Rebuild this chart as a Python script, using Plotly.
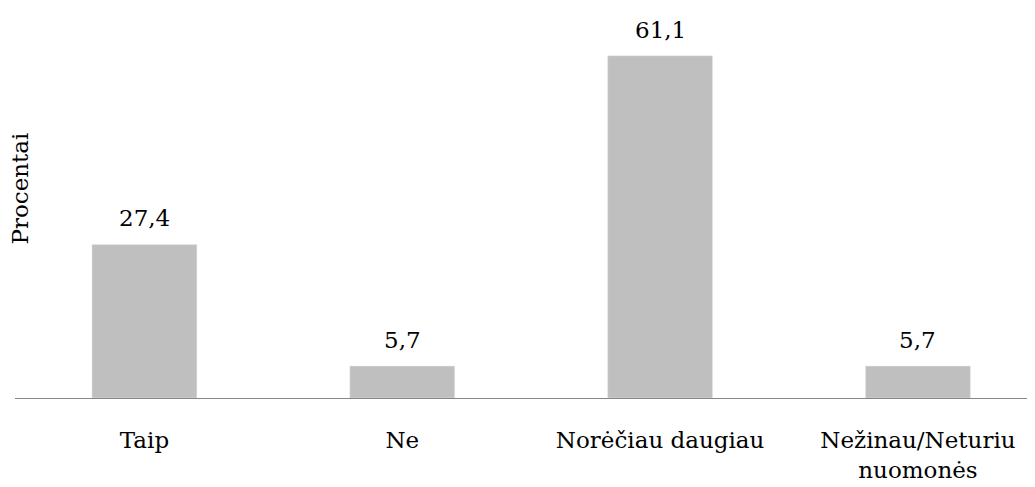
import plotly.graph_objects as go

kategorijos = ["Taip", "Ne", "Norėčiau daugiau", "Nežinau/Neturiu<br>nuomonės"]
procentai = [27.4, 5.7, 61.1, 5.7]
etiketes = [f"{v:.1f}".replace(".", ",") for v in procentai]

SRIFTAS = "DejaVu Serif"
DYDIS = 23

fig = go.Figure(go.Bar(
    x=kategorijos,
    y=procentai,
    marker_color="#BFBFBF",
    width=0.407,
    hoverinfo="skip",
))

for k, v, t in zip(kategorijos, procentai, etiketes):
    fig.add_annotation(
        x=k, y=v, text=t, showarrow=False,
        yanchor="bottom", yshift=11,
        font=dict(family=SRIFTAS, size=DYDIS, color="#000000"),
    )

fig.add_annotation(
    xref="paper", yref="paper", x=0.005, y=0.55,
    xanchor="center", yanchor="middle",
    text="Procentai", textangle=-90, showarrow=False,
    font=dict(family=SRIFTAS, size=DYDIS, color="#000000"),
)

fig.update_layout(
    width=1027,
    height=479,
    margin=dict(l=7, r=0, t=9, b=89, autoexpand=False),
    plot_bgcolor="white",
    paper_bgcolor="white",
    showlegend=False,
    font=dict(family=SRIFTAS, size=DYDIS, color="#000000"),
    xaxis=dict(
        range=[-0.502, 3.454],
        showline=True, linecolor="#868686", linewidth=1,
        ticks="", showgrid=False, automargin=False,
        ticklabelstandoff=21,
        tickfont=dict(family=SRIFTAS, size=DYDIS, color="#000000"),
    ),
    yaxis=dict(
        range=[0, 68], showgrid=False, showline=False, automargin=False,
        showticklabels=False, ticks="", zeroline=False,
    ),
)

fig.write_html("out.html")
